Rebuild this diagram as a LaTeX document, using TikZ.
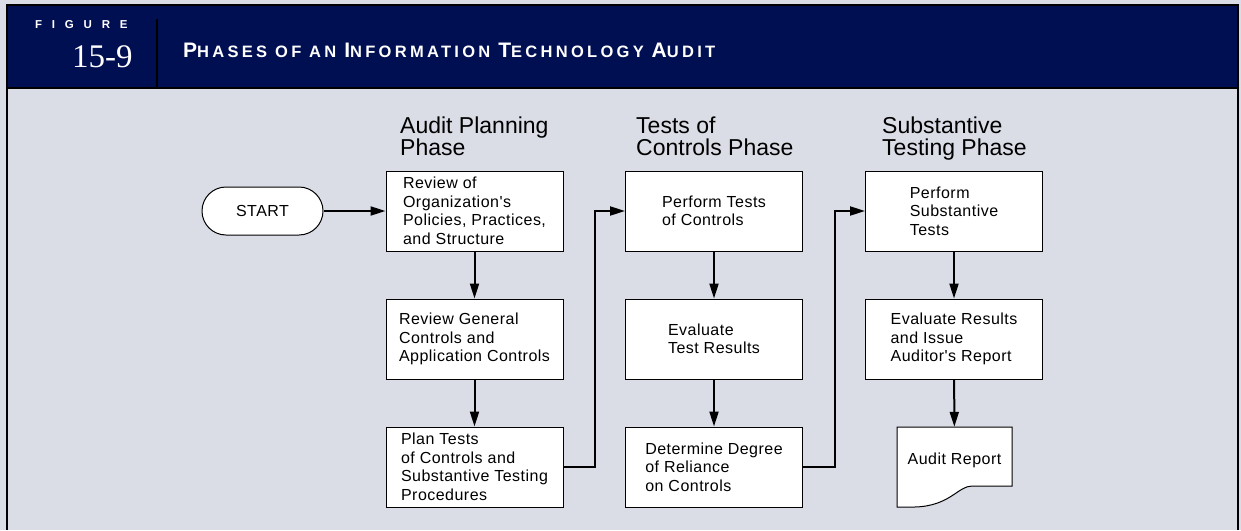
\documentclass[tikz,border=0pt]{standalone}
\usepackage{fontspec}
\setmainfont{Liberation Sans}
\newfontfamily\boxfont[LetterSpace=3]{Liberation Sans}
\newfontfamily\titlefont[LetterSpace=20]{Liberation Sans}
\newfontfamily\figfont[LetterSpace=85]{Liberation Sans}
\newfontfamily\numfont{Liberation Serif}
\usetikzlibrary{arrows.meta,positioning}

\definecolor{pagebg}{RGB}{218,221,230}
\definecolor{headnavy}{RGB}{0,14,82}

\newcommand\capinit[1]{{\fontsize{21}{20}\selectfont #1}}

\tikzset{
  box/.style={draw, fill=white, line width=1pt, minimum width=177pt, minimum height=80pt,
    align=left, inner sep=0pt, font=\boxfont\fontsize{16}{18.5}\selectfont},
  terminal/.style={draw, fill=white, line width=1pt, rounded corners=24pt, minimum width=121pt,
    minimum height=48pt, inner sep=0pt, font=\boxfont\fontsize{16}{18.5}\selectfont},
  docnode/.style={minimum width=115pt, minimum height=80pt, inner sep=0pt,
    text height=11.5pt, text depth=17.5pt, font=\boxfont\fontsize{16}{18.5}\selectfont},
  phase/.style={anchor=base west, align=left, inner sep=0pt, font=\fontsize{23}{22}\selectfont},
  flow/.style={line width=2pt, -{Triangle[length=15pt,width=9pt]}},
}

\begin{document}
\begin{tikzpicture}[x=1pt, y=-1pt]
  \useasboundingbox (0,0) rectangle (1241,530);
  \fill[pagebg] (0,0) rectangle (1241,530);

  % header band
  \draw[line width=2pt, fill=headnavy] (7,5) rectangle (1238,87.5);
  \draw[line width=2pt] (7,87.5) -- (7,530);
  \draw[line width=2pt] (1238,87.5) -- (1238,530);
  \draw[line width=2pt] (156.5,19) -- (156.5,87);
  \node[anchor=base west, inner sep=0pt, text=white, font=\figfont\bfseries\fontsize{11.5}{11}\selectfont] (figlabel) at (35,28) {FIGURE};
  \node[anchor=base west, inner sep=0pt, text=white, font=\numfont\fontsize{33}{33}\selectfont] (fignum) at (72,67) {15-9};
  \node[anchor=base west, inner sep=0pt, text=white, font=\titlefont\bfseries\fontsize{16.5}{16}\selectfont] (figtitle) at (183,57)
    {\capinit{P}HASES OF AN \capinit{I}NFORMATION \capinit{T}ECHNOLOGY \capinit{A}UDIT};

  % phase headings (base = last line)
  \node[phase] (planhead) at (400,155) {Audit Planning\\Phase};
  \node[phase] (testhead) at (636,155) {Tests of\\Controls Phase};
  \node[phase] (subhead) at (882,155) {Substantive\\Testing Phase};

  % flow chart
  \node[terminal] (start) at (262.5,211) {START};
  \node[box] (orgreview) at (474.5,211) {Review of\\Organization's\\Policies, Practices,\\and Structure};
  \node[box] (genreview) at (474.5,339) {Review General\\Controls and\\Application Controls};
  \node[box] (plantests) at (474.5,467) {Plan Tests\\of Controls and\\Substantive Testing\\Procedures};
  \node[box] (perftests) at (714,211) {Perform Tests\\of Controls};
  \node[box] (evaltests) at (714,339) {Evaluate\\Test Results};
  \node[box] (reliance) at (714,467) {Determine Degree\\of Reliance\\on Controls};
  \node[box] (subtests) at (954,211) {Perform\\Substantive\\Tests};
  \node[box] (evalresults) at (954,339) {Evaluate Results\\and Issue\\Auditor's Report};
  \draw[line width=1pt, fill=white] (897,507) -- (897,427) -- (1012,427) -- (1012,486) -- (972,486)
    .. controls (958,486) and (950,506) .. (915,507) -- cycle;
  \node[docnode] (auditreport) at (954.5,467) {Audit Report};

  \draw[flow] (start) -- (orgreview);
  \draw[flow] (orgreview) -- (genreview);
  \draw[flow] (genreview) -- (plantests);
  \draw[flow] (plantests.east) -- ++(31,0) |- (perftests.west);
  \draw[flow] (perftests) -- (evaltests);
  \draw[flow] (evaltests) -- (reliance);
  \draw[flow] (reliance.east) -- ++(32,0) |- (subtests.west);
  \draw[flow] (subtests) -- (evalresults);
  \draw[flow] (evalresults) -- (auditreport);
\end{tikzpicture}
\end{document}
